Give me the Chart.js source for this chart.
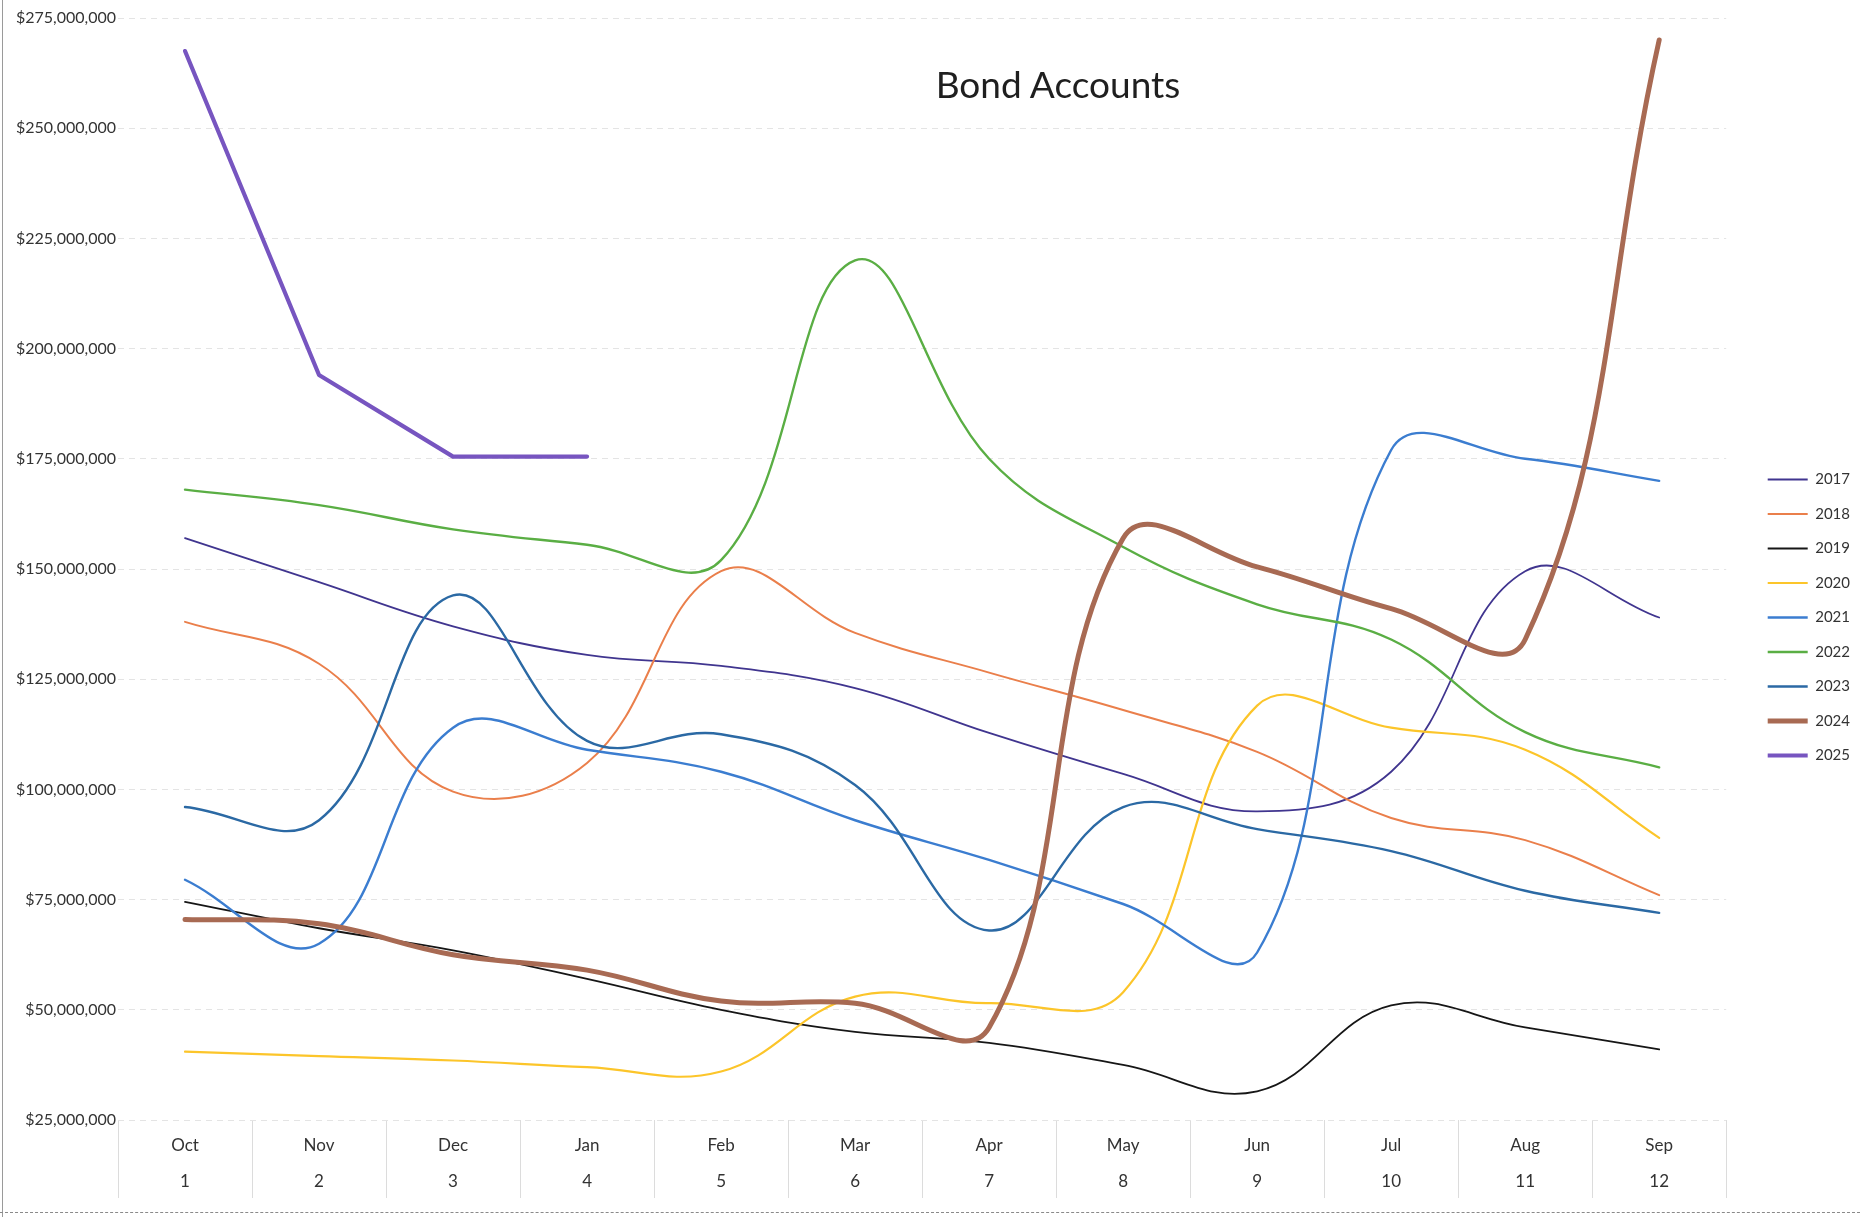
<!DOCTYPE html>
<html>
<head>
<meta charset="utf-8">
<title>Bond Accounts</title>
<script src="https://cdn.jsdelivr.net/npm/chart.js@4.4.1/dist/chart.umd.min.js"></script>
<style>
  html, body { margin: 0; padding: 0; background: #ffffff; }
  #wrap { position: relative; width: 1860px; height: 1217px; overflow: hidden; background: #fff; }
  #chart { position: absolute; left: 0; top: 0; }
  #title {
    position: absolute; left: 808px; width: 500px; top: 63px;
    text-align: center; font-family: Lato, "Open Sans", sans-serif;
    font-size: 37px; line-height: 42px; color: #1f1f1f;
  }
  #edgeLeft { position: absolute; left: 2px; top: 0; width: 1px; height: 1217px; background: #9a9a9a; }
  #edgeBottom { position: absolute; left: 0; top: 1212px; width: 1860px; height: 0; border-top: 1px dashed #8a8a8a; }
</style>
</head>
<body>
<div id="wrap">
  <canvas id="chart" width="1860" height="1217"></canvas>
  <div id="title">Bond Accounts</div>
  <div id="edgeLeft"></div>
  <div id="edgeBottom"></div>
</div>
<script>
// ---- data ----
const months = ['Oct', 'Nov', 'Dec', 'Jan', 'Feb', 'Mar', 'Apr', 'May', 'Jun', 'Jul', 'Aug', 'Sep'];
const monthNumbers = ['1', '2', '3', '4', '5', '6', '7', '8', '9', '10', '11', '12'];
const years = ['2017', '2018', '2019', '2020', '2021', '2022', '2023', '2024', '2025'];

const fy2017 = [157000000, 147000000, 137000000, 130500000, 128000000, 123000000, 112800000, 103500000, 95000000, 104000000, 149500000, 139000000];
const fy2018 = [138000000, 128500000, 99500000, 106000000, 149500000, 135500000, 126500000, 118000000, 108500000, 93500000, 88500000, 76000000];
const fy2019 = [74500000, 68500000, 63500000, 57000000, 50000000, 45000000, 42500000, 37500000, 31500000, 51000000, 46000000, 41000000];
const fy2020 = [40500000, 39500000, 38500000, 37000000, 36000000, 53000000, 51500000, 54000000, 119000000, 114000000, 109000000, 89000000];
const fy2021 = [79500000, 65000000, 114000000, 109000000, 104000000, 93000000, 84000000, 74000000, 63000000, 177000000, 175000000, 170000000];
const fy2022 = [168000000, 164500000, 159000000, 155500000, 152000000, 220000000, 175000000, 155000000, 142000000, 134000000, 113000000, 105000000];
const fy2023 = [96000000, 93000000, 144000000, 111000000, 112500000, 101000000, 68000000, 96000000, 91000000, 86000000, 77000000, 72000000];
const fy2024 = [70500000, 69500000, 62500000, 59000000, 52000000, 51500000, 46000000, 157000000, 150500000, 141000000, 134000000, 270000000];
const fy2025 = [267500000, 194000000, 175500000, 175500000, null, null, null, null, null, null, null, null];

const yMin = 25000000;
const yMax = 275000000;
const yStep = 25000000;

// ---- styles ----
const seriesValues = [fy2017, fy2018, fy2019, fy2020, fy2021, fy2022, fy2023, fy2024, fy2025];
const seriesColors = ['#40358f', '#ea7f4b', '#161616', '#fcc52a', '#3b7dd0', '#5aae44', '#2b69a4', '#a86a53', '#7755c0'];
const seriesWidths = [1.8, 2.0, 1.8, 2.2, 2.4, 2.4, 2.4, 5.0, 4.2];
const seriesTension = [0.4, 0.4, 0.4, 0.4, 0.4, 0.4, 0.4, 0.4, 0];

const datasets = years.map((y, i) => ({
  label: y,
  data: seriesValues[i],
  borderColor: seriesColors[i],
  backgroundColor: seriesColors[i],
  borderWidth: seriesWidths[i],
  tension: seriesTension[i],
  pointRadius: 0,
  pointHoverRadius: 0,
  fill: false,
  spanGaps: false,
  order: years.length - i,
  borderCapStyle: 'round',
  borderJoinStyle: 'round'
}));

const xLabels = months.map((m, i) => [m, monthNumbers[i]]);

const fontFamily = 'Lato, "Open Sans", sans-serif';

new Chart(document.getElementById('chart'), {
  type: 'line',
  data: { labels: xLabels, datasets: datasets },
  options: {
    responsive: false,
    animation: false,
    devicePixelRatio: 1,
    layout: { padding: { top: 18, left: 0, right: 0, bottom: 0 } },
    plugins: {
      title: { display: false },
      tooltip: { enabled: false },
      legend: {
        display: true,
        position: 'right',
        align: 'center',
        labels: {
          usePointStyle: true,
          pointStyle: 'line',
          pointStyleWidth: 40,
          padding: 19.5,
          color: '#333333',
          font: { family: fontFamily, size: 15 },
          sort: (a, b) => a.datasetIndex - b.datasetIndex
        }
      }
    },
    scales: {
      x: {
        type: 'category',
        offset: true,
        grid: {
          display: true,
          offset: true,
          drawOnChartArea: false,
          drawTicks: true,
          tickLength: 78,
          tickColor: '#dcdcdc',
          tickWidth: 1
        },
        border: { display: false },
        ticks: {
          color: '#333333',
          padding: -71,
          maxRotation: 0,
          autoSkip: false,
          font: { family: fontFamily, size: 17, lineHeight: 2.15 }
        },
        afterFit: (s) => { s.height = 97; }
      },
      y: {
        type: 'linear',
        min: yMin,
        max: yMax,
        grid: {
          color: '#e4e4e4',
          lineWidth: 1,
          drawTicks: false
        },
        border: { display: false, dash: [6, 5] },
        ticks: {
          stepSize: yStep,
          padding: 2,
          color: '#333333',
          font: { family: fontFamily, size: 16 },
          callback: (v) => '$' + Number(v).toLocaleString('en-US')
        },
        afterFit: (s) => { s.width = 118; }
      },
      ySpacer: {
        type: 'linear',
        position: 'right',
        display: true,
        grid: { display: false, drawTicks: false },
        border: { display: false },
        ticks: { display: false },
        afterFit: (s) => { s.width = 22; }
      }
    }
  }
});
</script>
</body>
</html>
